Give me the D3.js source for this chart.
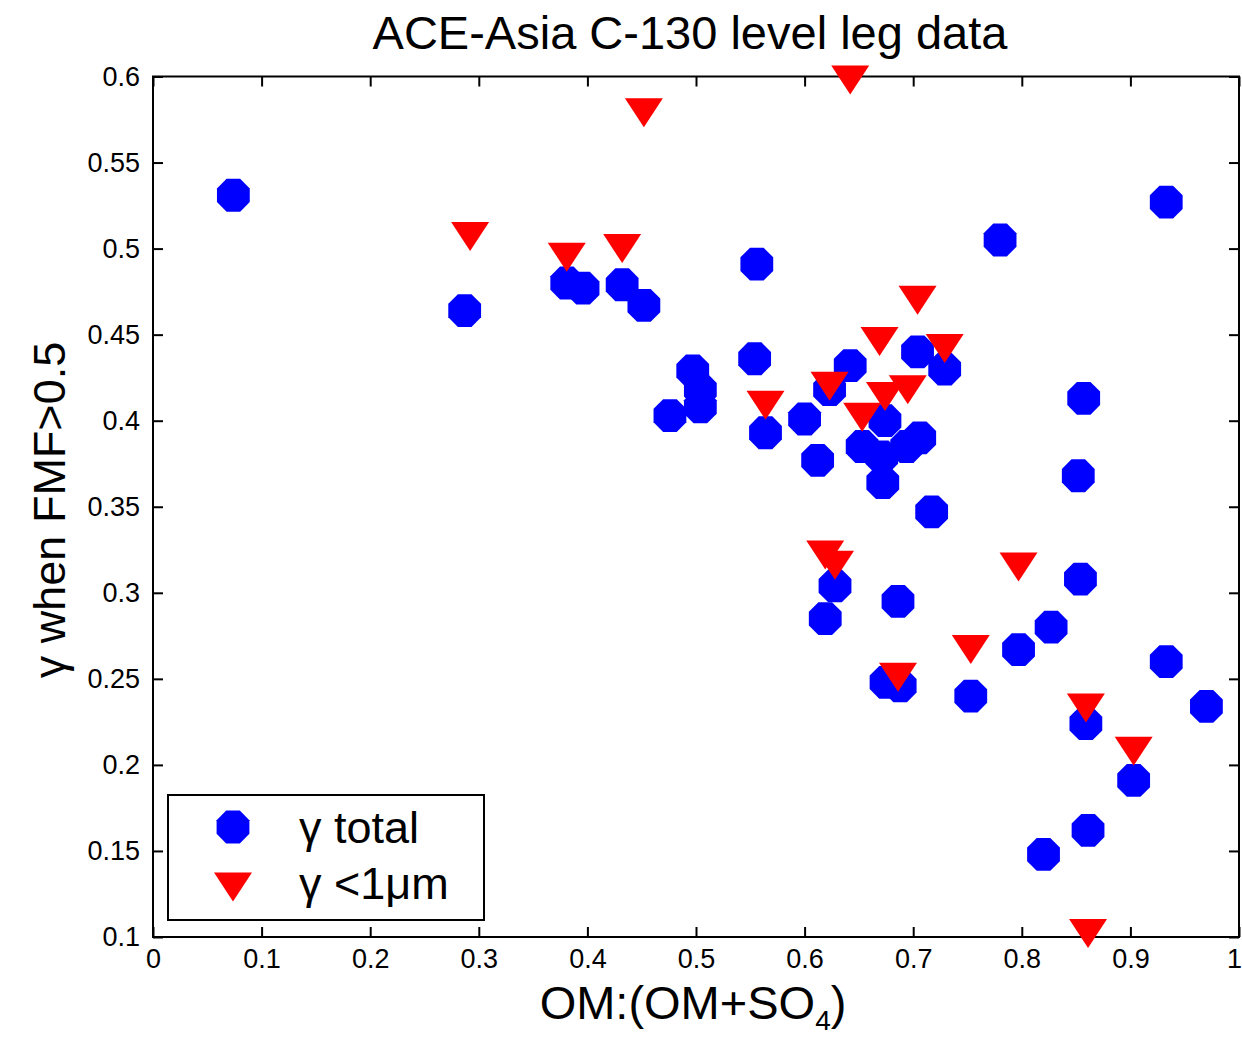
<!DOCTYPE html>
<html>
<head>
<meta charset="utf-8">
<script src="https://cdn.jsdelivr.net/npm/d3@7"></script>
<style>
  html, body { margin: 0; padding: 0; background: #fff; }
  svg text { font-family: "Liberation Sans", Arial, Helvetica, sans-serif; fill: #000; }
</style>
</head>
<body>
<svg id="chart" width="1242" height="1040"></svg>
<script>
// ---- data ----
const totalX = [0.074, 0.287, 0.381, 0.396, 0.432, 0.452, 0.556, 0.780, 0.933, 0.497, 0.504, 0.504, 0.476, 0.554, 0.564, 0.600, 0.612, 0.642, 0.623, 0.674, 0.653, 0.671, 0.672, 0.694, 0.706, 0.704, 0.717, 0.729, 0.857, 0.852, 0.854, 0.628, 0.619, 0.686, 0.675, 0.688, 0.827, 0.797, 0.753, 0.933, 0.970, 0.859, 0.903, 0.861, 0.820];
const totalY = [0.531, 0.464, 0.480, 0.477, 0.479, 0.467, 0.491, 0.505, 0.527, 0.429, 0.418, 0.408, 0.403, 0.436, 0.393, 0.401, 0.377, 0.432, 0.418, 0.400, 0.385, 0.379, 0.364, 0.385, 0.390, 0.440, 0.347, 0.430, 0.413, 0.368, 0.308, 0.304, 0.285, 0.295, 0.248, 0.246, 0.280, 0.267, 0.240, 0.260, 0.234, 0.224, 0.191, 0.162, 0.148];
const subX = [0.292, 0.452, 0.642, 0.381, 0.432, 0.704, 0.669, 0.729, 0.564, 0.623, 0.653, 0.674, 0.695, 0.619, 0.628, 0.797, 0.753, 0.686, 0.859, 0.903, 0.861];
const subY = [0.507, 0.579, 0.598, 0.495, 0.500, 0.470, 0.446, 0.442, 0.409, 0.420, 0.402, 0.414, 0.418, 0.322, 0.316, 0.315, 0.267, 0.251, 0.233, 0.208, 0.102];
const xTicks = [0, 0.1, 0.2, 0.3, 0.4, 0.5, 0.6, 0.7, 0.8, 0.9, 1];
const yTicks = [0.1, 0.15, 0.2, 0.25, 0.3, 0.35, 0.4, 0.45, 0.5, 0.55, 0.6];
const xTickLabels = ["0", "0.1", "0.2", "0.3", "0.4", "0.5", "0.6", "0.7", "0.8", "0.9", "1"];
const yTickLabels = ["0.1", "0.15", "0.2", "0.25", "0.3", "0.35", "0.4", "0.45", "0.5", "0.55", "0.6"];
const titleText = "ACE-Asia C-130 level leg data";
const seriesNames = ["\u03b3 total", "\u03b3 <1\u03bcm"];

// ---- layout ----
const L = 153, R = 1239, T = 76.5, B = 937;
const svg = d3.select("#chart");
const x = d3.scaleLinear().domain([0, 1]).range([L, R]);
const y = d3.scaleLinear().domain([0.1, 0.6]).range([B, T]);

const tickLen = 10;
function styleAxis(g) {
  g.selectAll(".domain").remove();
  g.selectAll(".tick line").attr("stroke", "#000").attr("stroke-width", 2);
  g.selectAll(".tick text").style("font-size", "27px").attr("fill", "#000");
}

// bottom axis (inward ticks + labels)
const bx = svg.append("g").attr("transform", `translate(0,${B})`)
  .call(d3.axisBottom(x).tickValues(xTicks).tickFormat((d, i) => xTickLabels[i]).tickSize(-tickLen).tickPadding(12))
  .call(styleAxis);
// keep the last label ("1") inside the picture, as in the reference
bx.selectAll(".tick text").filter(d => d === 1).attr("dx", -5);
// left axis
svg.append("g").attr("transform", `translate(${L},0)`)
  .call(d3.axisLeft(y).tickValues(yTicks).tickFormat((d, i) => yTickLabels[i]).tickSize(-tickLen).tickPadding(13))
  .call(styleAxis);
// top & right axes (ticks only)
svg.append("g").attr("transform", `translate(0,${T})`)
  .call(d3.axisTop(x).tickValues(xTicks).tickFormat("").tickSize(-tickLen))
  .call(styleAxis);
svg.append("g").attr("transform", `translate(${R},0)`)
  .call(d3.axisRight(y).tickValues(yTicks).tickFormat("").tickSize(-tickLen))
  .call(styleAxis);

// frame
svg.append("rect").attr("x", L).attr("y", T).attr("width", R - L).attr("height", B - T)
  .attr("fill", "none").attr("stroke", "#000").attr("stroke-width", 2);

// marker shapes
const rOct = 16.4 / Math.cos(Math.PI / 8);
const octPts = d3.range(8).map(i => {
  const a = Math.PI / 8 + i * Math.PI / 4;
  return [rOct * Math.cos(a), rOct * Math.sin(a)];
});
const octPath = "M" + octPts.map(p => p.join(",")).join("L") + "Z";
const triPath = "M-19,-14.5L19,-14.5L0,14.5Z";

const totalData = totalX.map((v, i) => ({ x: v, y: totalY[i] }));
const subData = subX.map((v, i) => ({ x: v, y: subY[i] }));

svg.append("g").selectAll("path").data(totalData).join("path")
  .attr("d", octPath)
  .attr("transform", d => `translate(${x(d.x)},${y(d.y)})`)
  .attr("fill", "#0000ff");

svg.append("g").selectAll("path").data(subData).join("path")
  .attr("d", triPath)
  .attr("transform", d => `translate(${x(d.x)},${y(d.y)})`)
  .attr("fill", "#ff0000");

// title
svg.append("text").attr("x", 690).attr("y", 49).attr("text-anchor", "middle")
  .style("font-size", "47px").text(titleText);

// y label
svg.append("text").attr("transform", "translate(65,510) rotate(-90)").attr("text-anchor", "middle")
  .style("font-size", "45px").text("\u03b3 when FMF>0.5");

// x label with subscript
const xl = svg.append("text").attr("x", 693).attr("y", 1019).attr("text-anchor", "middle")
  .style("font-size", "47px");
xl.append("tspan").text("OM:(OM+SO");
xl.append("tspan").attr("dy", 11).style("font-size", "28px").text("4");
xl.append("tspan").attr("dy", -11).text(")");

// legend
const lg = svg.append("g");
lg.append("rect").attr("x", 168).attr("y", 795).attr("width", 316).attr("height", 125)
  .attr("fill", "#fff").attr("stroke", "#000").attr("stroke-width", 2);
lg.append("path").attr("d", octPath).attr("transform", "translate(233,827)").attr("fill", "#0000ff");
lg.append("path").attr("d", triPath).attr("transform", "translate(233,887)").attr("fill", "#ff0000");
lg.append("text").attr("x", 299).attr("y", 843).style("font-size", "45px").text(seriesNames[0]);
lg.append("text").attr("x", 299).attr("y", 899).style("font-size", "45px").text(seriesNames[1]);
</script>
</body>
</html>
